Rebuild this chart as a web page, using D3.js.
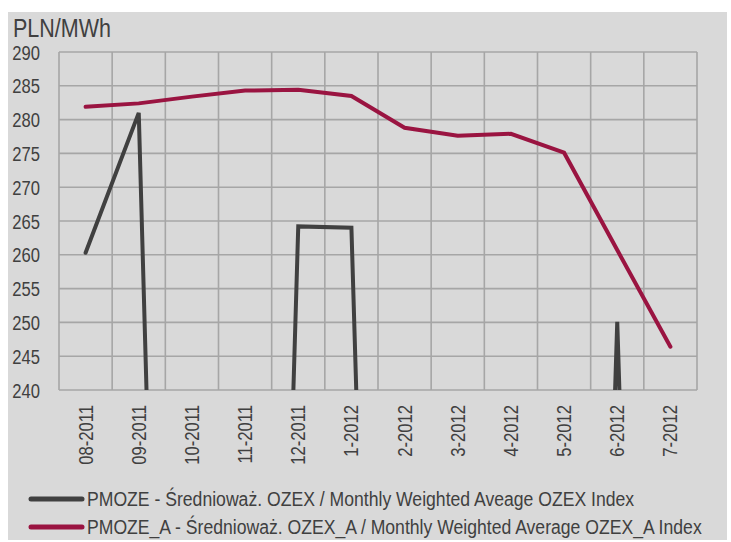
<!DOCTYPE html>
<html lang="pl">
<head>
    <meta charset="utf-8">
    <title>OZEX index</title>
    <script type="text/javascript" src="https://d3js.org/d3.v7.min.js"></script>
    <style>
        html, body {
            margin: 0;
            padding: 0;
            background: #ffffff;
        }

        text {
            font-family: "Liberation Sans Narrow", "Arial Narrow", "Liberation Sans", sans-serif;
            font-size: 20px;
            fill: #404040;
        }

        .grid line {
            stroke: #a6a6a6;
            stroke-width: 1.6px;
        }

        path.line {
            fill: none;
            stroke-width: 4px;
            stroke-linecap: round;
            stroke-linejoin: miter;
        }
    </style>
</head>
<body>
<script type="text/javascript">

    var months = ["08-2011", "09-2011", "10-2011", "11-2011", "12-2011", "1-2012",
                  "2-2012", "3-2012", "4-2012", "5-2012", "6-2012", "7-2012"];

    // PMOZE - gaps in the source come out as 0
    var pmoze = [260.3, 281.0, 0, 0, 264.2, 264.0, 0, 0, 0, 0, 250.1, 0];

    // PMOZE_A
    var pmozeA = [281.9, 282.4, 283.4, 284.3, 284.4, 283.5, 278.8, 277.6, 277.9, 275.1, 260.7, 246.4];

    var yTicks = [240, 245, 250, 255, 260, 265, 270, 275, 280, 285, 290];

    var seriesNames = ["PMOZE - Średnioważ. OZEX / Monthly Weighted Aveage OZEX Index",
                       "PMOZE_A - Średnioważ. OZEX_A / Monthly Weighted Average OZEX_A Index"];
    var seriesColors = ["#404040", "#9a1441"];

    var W = 731, H = 542;
    var plot = {left: 59, right: 697, top: 52, bottom: 390};

    var svg = d3.select("body").append("svg").attr("width", W).attr("height", H);

    svg.append("rect")
        .attr("x", 8).attr("y", 12)
        .attr("width", 719).attr("height", 528)
        .attr("fill", "#d9d9d9");

    var x = d3.scaleBand().domain(months).range([plot.left, plot.right]).padding(0);
    var y = d3.scaleLinear().domain([240, 290]).range([plot.bottom, plot.top]);

    // grid
    var grid = svg.append("g").attr("class", "grid");
    grid.selectAll("line.h")
        .data(yTicks)
        .enter().append("line")
        .attr("class", "h")
        .attr("x1", plot.left).attr("x2", plot.right)
        .attr("y1", function(d) { return y(d); })
        .attr("y2", function(d) { return y(d); });
    var edges = months.map(function(m) { return x(m); }).concat([plot.right]);
    grid.selectAll("line.v")
        .data(edges)
        .enter().append("line")
        .attr("class", "v")
        .attr("x1", function(d) { return d; }).attr("x2", function(d) { return d; })
        .attr("y1", plot.top).attr("y2", plot.bottom);

    // axes
    var yAxis = d3.axisLeft(y).tickValues(yTicks).tickSize(0).tickPadding(0);
    var yg = svg.append("g").attr("transform", "translate(40,0)").call(yAxis);
    yg.select(".domain").remove();
    yg.selectAll("text").attr("fill", "#404040").attr("dy", "0.35em").classed("squeeze", true);

    var xAxis = d3.axisBottom(x).tickSize(0);
    var xg = svg.append("g").attr("transform", "translate(0," + plot.bottom + ")").call(xAxis);
    xg.select(".domain").remove();
    xg.selectAll("text")
        .attr("fill", "#404040")
        .attr("text-anchor", "end")
        .attr("transform", "translate(0,15) rotate(-90)")
        .attr("x", 0).attr("y", 0)
        .attr("dy", "0.35em")
        .classed("squeeze", true);

    svg.append("text")
        .attr("x", 13).attr("y", 37)
        .style("font-size", "25px")
        .attr("data-k", 0.86)
        .classed("squeeze", true)
        .text("PLN/MWh");

    // lines
    svg.append("clipPath").attr("id", "clip")
        .append("rect")
        .attr("x", plot.left).attr("y", plot.top - 10)
        .attr("width", plot.right - plot.left).attr("height", plot.bottom - plot.top + 10);

    var line = d3.line()
        .x(function(d, i) { return x(months[i]) + x.bandwidth() / 2; })
        .y(function(d) { return y(d); });

    var lines = svg.append("g").attr("clip-path", "url(#clip)");
    lines.append("path")
        .attr("class", "line")
        .attr("stroke", seriesColors[1])
        .attr("d", line(pmozeA));
    lines.append("path")
        .attr("class", "line")
        .attr("stroke", seriesColors[0])
        .attr("d", line(pmoze));

    // legend
    var legend = svg.append("g").selectAll("g")
        .data(seriesNames)
        .enter().append("g")
        .attr("transform", function(d, i) { return "translate(0," + (499 + i * 28) + ")"; });
    legend.append("line")
        .attr("x1", 31).attr("x2", 82)
        .attr("stroke", function(d, i) { return seriesColors[i]; })
        .attr("stroke-width", 5)
        .attr("stroke-linecap", "round");
    legend.append("text")
        .attr("x", 87).attr("dy", "0.35em")
        .attr("data-k", 0.88)
        .classed("squeeze", true)
        .text(function(d) { return d; });

    // no narrow font installed, squeeze the regular one
    svg.selectAll("text.squeeze").each(function() {
        var k = +(this.getAttribute("data-k") || 0.83);
        var len = this.getComputedTextLength();
        d3.select(this)
            .attr("textLength", len * k)
            .attr("lengthAdjust", "spacingAndGlyphs");
    });

</script>
</body>
</html>
